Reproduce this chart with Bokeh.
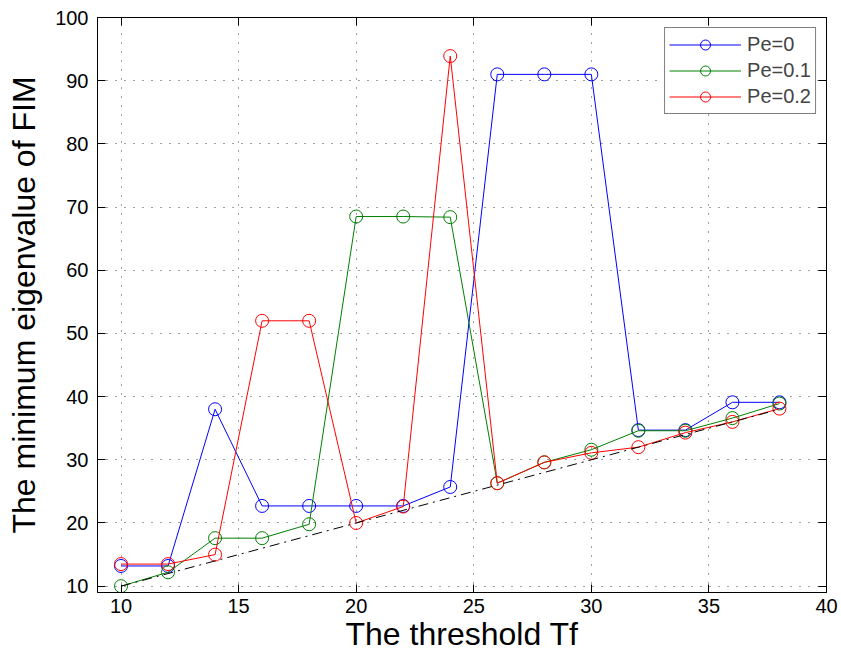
import math
from bokeh.plotting import figure
from bokeh.models import Range1d, LinearAxis, FixedTicker, Legend, LegendItem
from bokeh.embed import file_html
from bokeh.resources import INLINE

# ---- data ----
threshold = [10, 12, 14, 16, 18, 20, 22, 24, 26, 28, 30, 32, 34, 36, 38]
eig_pe0 = [13.2, 13.2, 38.0, 22.7, 22.7, 22.7, 22.7, 25.7, 91.0, 91.0, 91.0, 34.7, 34.7, 39.1, 39.1]
eig_pe01 = [10.0, 12.2, 17.6, 17.6, 19.8, 68.5, 68.5, 68.4, 26.3, 29.6, 31.6, 34.6, 34.6, 36.6, 38.9]
eig_pe02 = [13.5, 13.5, 15.0, 52.0, 52.0, 20.0, 22.6, 93.9, 26.3, 29.6, 31.1, 32.0, 34.3, 36.0, 38.1]
ref_x = [10, 38]
ref_y = [10, 38]
series_names = ["Pe=0", "Pe=0.1", "Pe=0.2"]
series_colors = ["#0000FF", "#008000", "#FF0000"]
x_ticks = [10, 15, 20, 25, 30, 35, 40]
y_ticks = [10, 20, 30, 40, 50, 60, 70, 80, 90, 100]
x_label = "The threshold Tf"
y_label = "The minimum eigenvalue of FIM"

FONT = "Liberation Sans"

p = figure(width=841, height=658,
           x_range=Range1d(9, 40), y_range=Range1d(9, 100),
           output_backend="svg", toolbar_location=None,
           min_border_left=97, min_border_right=15,
           min_border_top=17, min_border_bottom=66)
p.background_fill_color = "white"
p.border_fill_color = "white"
p.outline_line_color = "black"
p.outline_line_width = 1

bottom_axis = p.xaxis[0]
left_axis = p.yaxis[0]
top_axis = LinearAxis()
right_axis = LinearAxis()
p.add_layout(top_axis, "above")
p.add_layout(right_axis, "right")

for ax in [bottom_axis, top_axis]:
    ax.ticker = FixedTicker(ticks=x_ticks)
for ax in [left_axis, right_axis]:
    ax.ticker = FixedTicker(ticks=y_ticks)

for ax in [bottom_axis, left_axis, top_axis, right_axis]:
    ax.major_tick_in = 8
    ax.major_tick_out = 0
    ax.minor_tick_in = 0
    ax.minor_tick_out = 0
    ax.axis_line_color = "black"
    ax.axis_line_width = 1
    ax.major_tick_line_color = "black"
    ax.major_label_text_font = FONT
    ax.major_label_text_color = "black"

for ax in [bottom_axis, left_axis]:
    ax.major_label_text_font_size = "20px"
    ax.axis_label_text_font = FONT
    ax.axis_label_text_font_style = "normal"
    ax.axis_label_text_color = "black"
bottom_axis.major_label_standoff = 6
left_axis.major_label_standoff = 9
bottom_axis.axis_label = x_label
bottom_axis.axis_label_text_font_size = "32px"
bottom_axis.axis_label_standoff = 0
left_axis.axis_label = y_label
left_axis.axis_label_text_font_size = "32px"
left_axis.axis_label_standoff = 10

top_axis.major_label_overrides = {t: "" for t in x_ticks}
right_axis.major_label_overrides = {t: "" for t in y_ticks}
for ax in [top_axis, right_axis]:
    ax.major_label_text_font_size = "1px"
    ax.major_label_standoff = 0

p.xgrid.ticker = FixedTicker(ticks=x_ticks)
p.ygrid.ticker = FixedTicker(ticks=y_ticks)
for g in [p.xgrid[0], p.ygrid[0]]:
    g.grid_line_color = "#000000"
    g.grid_line_alpha = 0.75
    g.grid_line_dash = "1 8"
    g.grid_line_width = 1

items = []
for ys, name, col in zip([eig_pe0, eig_pe01, eig_pe02], series_names, series_colors):
    lr = p.line(threshold, ys, line_color=col, line_width=1)
    sr = p.scatter(threshold, ys, marker="circle", size=13, fill_color=None,
                   line_color=col, line_width=1)
    items.append(LegendItem(label=name, renderers=[lr, sr]))

p.line(ref_x, ref_y, line_color="black", line_width=1, line_dash="10 5 2 5")

legend = Legend(items=items, location="top_right")
legend.margin = 10
legend.padding = 4
legend.spacing = 1
legend.glyph_width = 72
legend.glyph_height = 25
legend.label_height = 25
legend.label_standoff = 6
legend.label_text_font = FONT
legend.label_text_font_size = "20px"
legend.border_line_color = "black"
legend.border_line_width = 1
legend.background_fill_color = "white"
legend.background_fill_alpha = 1
p.add_layout(legend)

open("out.html", "w").write(file_html(p, INLINE))
